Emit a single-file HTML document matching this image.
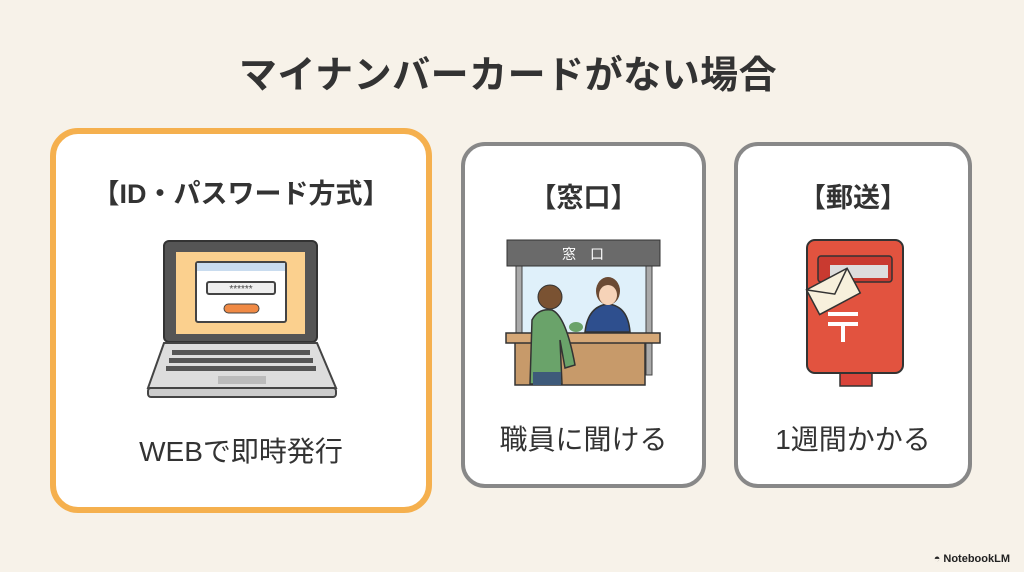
<!DOCTYPE html>
<html><head><meta charset="utf-8"><style>
html,body{margin:0;padding:0}
body{width:1024px;height:572px;background:#f7f2e9;position:relative;overflow:hidden;font-family:"Liberation Sans","Noto Sans CJK JP",sans-serif;color:#333}
.t{position:absolute;left:0;width:1016px;text-align:center;top:44px;font-size:38px;font-weight:bold;letter-spacing:0.5px}
.card{position:absolute;background:#fff;box-sizing:border-box}
.c1{left:50px;top:128px;width:382px;height:385px;border:6px solid #f5b04e;border-radius:28px}
.c2{left:461px;top:142px;width:245px;height:346px;border:4px solid #888;border-radius:24px}
.c3{left:734px;top:142px;width:238px;height:346px;border:4px solid #888;border-radius:24px}
.h{position:absolute;left:0;right:0;text-align:center;font-weight:bold;font-size:27px}
.s{position:absolute;left:0;right:0;text-align:center;font-size:28px}
svg{position:absolute;left:0;top:0}
.nb{position:absolute;right:14px;top:553px;font-size:11px;font-weight:bold;color:#222}
</style></head><body>
<div class="t">マイナンバーカードがない場合</div>
<div class="card c1"><div class="h" style="top:38px">【ID・パスワード方式】</div><div class="s" style="top:296px">WEBで即時発行</div></div>
<div class="card c2"><div class="h" style="top:30px">【窓口】</div><div class="s" style="top:272px">職員に聞ける</div></div>
<div class="card c3"><div class="h" style="top:30px">【郵送】</div><div class="s" style="top:272px">1週間かかる</div></div>
<svg width="1024" height="572" viewBox="0 0 1024 572">
<!-- laptop -->
<rect x="164" y="241" width="153" height="101" rx="5" fill="#555" stroke="#333" stroke-width="2"/>
<rect x="176" y="252" width="129" height="82" fill="#fbd08e"/>
<rect x="196" y="262" width="90" height="60" rx="2" fill="#fff" stroke="#444" stroke-width="2"/>
<rect x="197" y="263" width="88" height="8" fill="#c9dcef"/>
<rect x="207" y="282" width="68" height="12" rx="2" fill="#eee" stroke="#444" stroke-width="2"/>
<text x="241" y="292" font-size="10" text-anchor="middle" fill="#444">******</text>
<rect x="224" y="304" width="35" height="9" rx="4.5" fill="#f08a45" stroke="#444" stroke-width="1"/>
<path d="M164 343 L317 343 L336 388 L148 388 Z" fill="#ddd" stroke="#444" stroke-width="2"/>
<rect x="148" y="388" width="188" height="9" rx="3" fill="#ccc" stroke="#444" stroke-width="2"/>
<g fill="#555"><rect x="172" y="350" width="138" height="5"/><rect x="169" y="358" width="144" height="5"/><rect x="166" y="366" width="150" height="5"/><rect x="218" y="376" width="48" height="8" fill="#bbb"/></g>
<!-- counter -->
<rect x="516" y="265" width="136" height="70" fill="#dff0fa"/>
<rect x="516" y="265" width="6" height="110" fill="#aaa" stroke="#444"/>
<rect x="646" y="265" width="6" height="110" fill="#aaa" stroke="#444"/>
<rect x="507" y="240" width="153" height="26" fill="#6a6a6a" stroke="#333"/>
<text x="583" y="259" font-size="14" fill="#fff" text-anchor="middle" font-family="Noto Sans CJK JP">窓　口</text>
<path d="M585 332 Q588 306 608 304 Q628 306 630 332 Z" fill="#2e4f8e" stroke="#333" stroke-width="1.5"/>
<ellipse cx="608" cy="291" rx="12" ry="14" fill="#6b4a33"/>
<ellipse cx="608" cy="295" rx="9" ry="10" fill="#f6d3b8"/>
<ellipse cx="576" cy="327" rx="7" ry="5" fill="#6aa36a"/>
<rect x="515" y="335" width="130" height="50" fill="#c79a6a" stroke="#333" stroke-width="1.5"/>
<rect x="506" y="333" width="154" height="10" fill="#d6a877" stroke="#333" stroke-width="1.5"/>
<path d="M530 384 L532 320 Q538 308 552 310 Q566 316 575 365 L565 368 L560 340 L562 384 Z" fill="#6aa36a" stroke="#333" stroke-width="1.5"/>
<rect x="533" y="372" width="28" height="13" fill="#3e5a7a"/>
<circle cx="550" cy="297" r="12" fill="#7a5232" stroke="#333"/>
<!-- postbox -->
<rect x="840" y="370" width="32" height="16" fill="#d9443a" stroke="#333" stroke-width="1.5"/>
<rect x="807" y="240" width="96" height="133" rx="8" fill="#e2533f" stroke="#333" stroke-width="2"/>
<rect x="818" y="256" width="74" height="26" rx="3" fill="#c93a30" stroke="#333" stroke-width="1.5"/>
<rect x="830" y="265" width="58" height="13" fill="#ddd"/>
<g fill="#fff"><rect x="828" y="312" width="30" height="4"/><rect x="828" y="322" width="30" height="4"/><rect x="841" y="322" width="4" height="20"/></g>
<g transform="rotate(-28 832 291)"><rect x="810" y="278" width="46" height="28" fill="#f7f0dc" stroke="#333" stroke-width="1.5"/><path d="M810 278 L833 295 L856 278" fill="none" stroke="#333" stroke-width="1.5"/></g>
</svg>
<div class="nb">◓ NotebookLM</div>
</body></html>
